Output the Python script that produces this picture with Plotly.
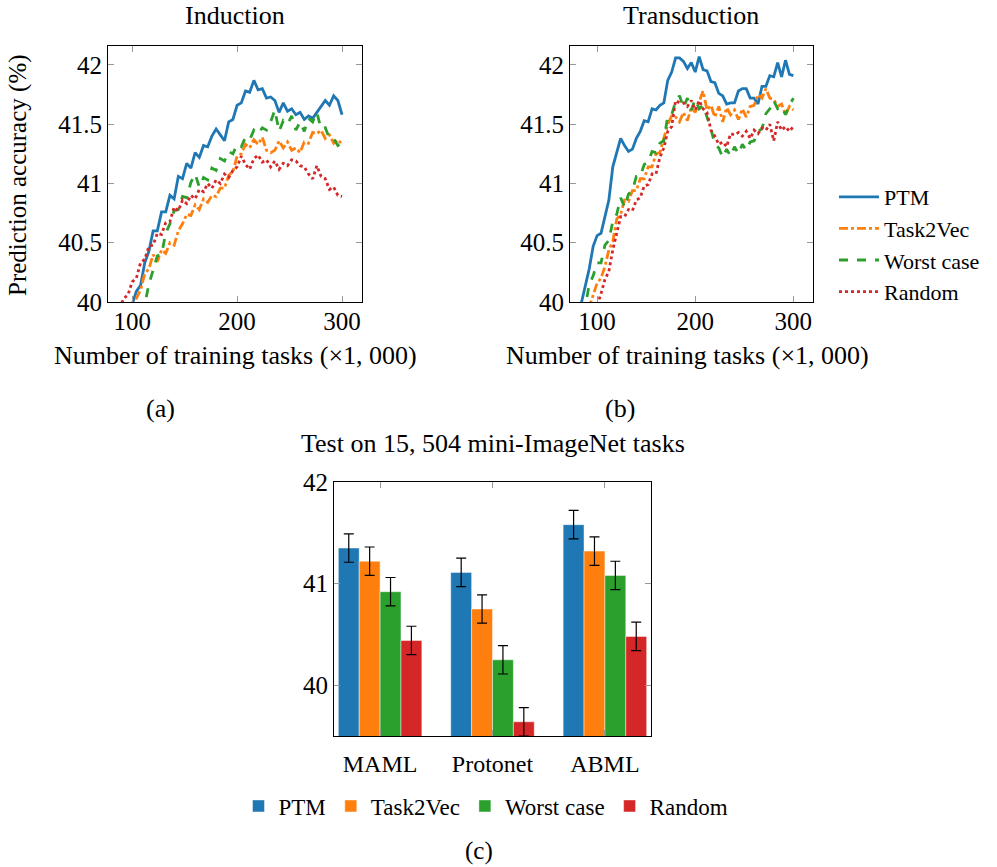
import plotly.graph_objects as go

# ---------------- data ----------------
methods = ["PTM", "Task2Vec", "Worst case", "Random"]
colors = ["#1f77b4", "#ff7f0e", "#2ca02c", "#d62728"]
dashes = ["solid", "dashdot", "dash", "dot"]

# (a) Induction
ind_x = list(range(84, 301, 4))
ind_ptm = [39.6, 39.7, 39.8, 39.9, 39.98, 40.09, 40.14, 40.33, 40.43, 40.6, 40.6, 40.76, 40.76, 40.9, 40.87,
           41.06, 41.04, 41.17, 41.13, 41.26, 41.22, 41.32, 41.31, 41.4, 41.46, 41.41, 41.36, 41.52, 41.54,
           41.66, 41.68, 41.78, 41.77, 41.87, 41.79, 41.8, 41.72, 41.73, 41.7, 41.6, 41.68, 41.61, 41.63,
           41.58, 41.6, 41.54, 41.57, 41.55, 41.6, 41.64, 41.7, 41.66, 41.74, 41.7, 41.58]
ind_t2v = [39.6, 39.7, 39.78, 39.85, 39.93, 40.03, 40.1, 40.24, 40.28, 40.4, 40.34, 40.44, 40.41, 40.5, 40.48,
           40.6, 40.66, 40.74, 40.73, 40.82, 40.78, 40.87, 40.84, 40.9, 40.89, 40.96, 40.96, 41.07, 41.1,
           41.23, 41.25, 41.33, 41.3, 41.37, 41.33, 41.39, 41.28, 41.26, 41.28, 41.36, 41.3, 41.35, 41.28,
           41.3, 41.26, 41.35, 41.34, 41.43, 41.42, 41.45, 41.38, 41.41, 41.34, 41.37, 41.33]
ind_worst = [39.5, 39.6, 39.65, 39.7, 39.75, 39.8, 39.9, 39.98, 40.15, 40.26, 40.39, 40.4, 40.58, 40.66, 40.77,
             40.78, 40.89, 40.88, 41.01, 41.08, 40.97, 41.05, 41.03, 41.13, 41.11, 41.21, 41.19, 41.27, 41.25,
             41.33, 41.31, 41.39, 41.37, 41.45, 41.42, 41.47, 41.45, 41.52, 41.62, 41.44, 41.53, 41.5, 41.57,
             41.45, 41.52, 41.44, 41.55, 41.52, 41.6, 41.46, 41.47, 41.38, 41.38, 41.32, 41.34]
ind_rand = [39.85, 39.95, 40.03, 40.06, 40.17, 40.2, 40.33, 40.36, 40.47, 40.48, 40.58, 40.57, 40.67, 40.68,
            40.8, 40.77, 40.86, 40.83, 40.9, 40.87, 40.95, 40.93, 41.0, 40.96, 41.03, 41.0, 41.08, 41.05, 41.11,
            41.14, 41.23, 41.16, 41.12, 41.21, 41.24, 41.18, 41.2, 41.14, 41.19, 41.12, 41.17, 41.15, 41.2,
            41.19, 41.15, 41.14, 41.08, 41.04, 41.15, 41.06, 41.04, 40.95, 40.97, 40.9, 40.89]

# (b) Transduction
tra_x = list(range(80, 301, 4))
tra_ptm = [39.85, 39.99, 40.12, 40.28, 40.47, 40.56, 40.58, 40.72, 40.86, 41.14, 41.26, 41.38, 41.32, 41.27,
           41.29, 41.38, 41.44, 41.53, 41.52, 41.63, 41.62, 41.66, 41.68, 41.87, 41.94, 42.06, 42.06, 42.03,
           41.97, 42.02, 41.94, 42.07, 41.96, 41.95, 41.86, 41.85, 41.76, 41.74, 41.67, 41.68, 41.68, 41.78,
           41.8, 41.8, 41.72, 41.72, 41.67, 41.82, 41.82, 41.91, 41.9, 42.02, 41.9, 42.04, 41.92, 41.91]
tra_t2v = [39.65, 39.75, 39.85, 39.95, 40.05, 40.16, 40.2, 40.3, 40.44, 40.51, 40.7, 40.74, 40.86, 40.85,
           40.94, 40.94, 41.04, 41.04, 41.14, 41.14, 41.25, 41.26, 41.38, 41.5, 41.57, 41.56, 41.52, 41.6,
           41.53, 41.64, 41.6, 41.7, 41.78, 41.62, 41.66, 41.56, 41.65, 41.52, 41.64, 41.58, 41.62, 41.54,
           41.63, 41.56, 41.65, 41.66, 41.75, 41.72, 41.8, 41.72, 41.71, 41.65, 41.67, 41.58, 41.65, 41.62]
tra_worst = [39.75, 39.85, 39.96, 40.15, 40.22, 40.33, 40.33, 40.48, 40.52, 40.68, 40.74, 40.88, 40.8, 40.91,
             40.94, 41.06, 41.06, 41.16, 41.18, 41.27, 41.26, 41.34, 41.36, 41.57, 41.58, 41.69, 41.74, 41.64,
             41.72, 41.62, 41.71, 41.63, 41.66, 41.56, 41.46, 41.33, 41.3, 41.22, 41.29, 41.23, 41.31, 41.25,
             41.33, 41.28, 41.35, 41.36, 41.44, 41.46, 41.59, 41.63, 41.7, 41.63, 41.65, 41.58, 41.66, 41.72]
tra_rand = [39.55, 39.65, 39.75, 39.82, 39.9, 39.97, 40.07, 40.19, 40.26, 40.44, 40.58, 40.72, 40.72, 40.78,
            40.77, 40.86, 40.88, 40.98, 40.99, 41.08, 41.08, 41.22, 41.3, 41.44, 41.48, 41.7, 41.68, 41.68,
            41.65, 41.7, 41.62, 41.7, 41.63, 41.6, 41.45, 41.4, 41.33, 41.35, 41.31, 41.42, 41.41, 41.43,
            41.4, 41.44, 41.38, 41.45, 41.42, 41.47, 41.45, 41.5, 41.36, 41.52, 41.45, 41.48, 41.44, 41.48]

# (c) Test bars
bar_cats = ["MAML", "Protonet", "ABML"]
bar_ptm = [41.35, 41.11, 41.58]
bar_t2v = [41.22, 40.75, 41.32]
bar_worst = [40.92, 40.25, 41.08]
bar_rand = [40.44, 39.64, 40.48]
bar_err = [0.14, 0.14, 0.14]

line_ticks_x = [100, 200, 300]
line_ticks_y = [40, 40.5, 41, 41.5, 42]
bar_ticks_y = [40, 41, 42]

# ---------------- figure ----------------
W, H = 997, 867
FONT = "'Liberation Serif', 'Times New Roman', Times, 'DejaVu Serif', serif"

def px(x):
    return x / W

def py(y):
    return 1 - y / H

fig = go.Figure()

ind_series = [ind_ptm, ind_t2v, ind_worst, ind_rand]
tra_series = [tra_ptm, tra_t2v, tra_worst, tra_rand]
for i, m in enumerate(methods):
    fig.add_trace(go.Scatter(x=ind_x, y=ind_series[i], mode="lines", name=m,
                             line=dict(color=colors[i], width=2.8, dash=dashes[i]),
                             xaxis="x", yaxis="y", legend="legend", showlegend=True))
for i, m in enumerate(methods):
    fig.add_trace(go.Scatter(x=tra_x, y=tra_series[i], mode="lines", name=m,
                             line=dict(color=colors[i], width=2.8, dash=dashes[i]),
                             xaxis="x2", yaxis="y2", showlegend=False))

bar_series = [bar_ptm, bar_t2v, bar_worst, bar_rand]
for i, m in enumerate(methods):
    fig.add_trace(go.Bar(x=bar_cats, y=bar_series[i], name=m,
                         marker=dict(color=colors[i], line=dict(color="rgba(255,255,255,0.45)", width=1)),
                         error_y=dict(type="data", array=bar_err, color="black", thickness=1.2, width=5),
                         xaxis="x3", yaxis="y3", legend="legend2"))

axis_common = dict(showline=True, linecolor="black", linewidth=1.2, mirror="ticks",
                   ticks="inside", ticklen=6, tickcolor="#999999", tickwidth=1.2,
                   showgrid=False, zeroline=False, automargin=False,
                   tickfont=dict(family=FONT, size=25, color="black"))

fig.update_layout(
    width=W, height=H, autosize=False,
    margin=dict(l=0, r=0, t=0, b=0, pad=0, autoexpand=False),
    paper_bgcolor="white", plot_bgcolor="white",
    font=dict(family=FONT, size=23, color="black"),
    barmode="group", bargap=0.257, bargroupgap=0,
    xaxis=dict(domain=[px(108), px(362)], range=[77, 319], tickvals=line_ticks_x,
               anchor="y", ticklabelstandoff=-3, **axis_common),
    yaxis=dict(domain=[py(302), py(46)], range=[40, 42.16], tickvals=line_ticks_y,
               anchor="x", **axis_common),
    xaxis2=dict(domain=[px(570), px(813)], range=[72.4, 320], tickvals=line_ticks_x,
                anchor="y2", ticklabelstandoff=-3, **axis_common),
    yaxis2=dict(domain=[py(302), py(46)], range=[40, 42.16], tickvals=line_ticks_y,
                anchor="x2", **axis_common),
    xaxis3=dict(domain=[px(334), px(651)], range=[-0.41, 2.41], type="category",
                anchor="y3", ticklabelstandoff=6, **axis_common),
    yaxis3=dict(domain=[py(736), py(482)], range=[39.5, 42], tickvals=bar_ticks_y,
                anchor="x3", **axis_common),
    legend=dict(x=px(834), y=py(176), xanchor="left", yanchor="top",
                font=dict(family=FONT, size=22), bgcolor="rgba(0,0,0,0)",
                tracegroupgap=0, itemwidth=40),
    legend2=dict(orientation="h", x=px(486), y=py(806), xanchor="center", yanchor="middle",
                 font=dict(family=FONT, size=23), bgcolor="rgba(0,0,0,0)"),
)
fig.update_xaxes(tickfont=dict(size=24), selector=dict(anchor="y3"))

annots = [
    dict(text="Induction", x=px(235), y=py(15)),
    dict(text="Transduction", x=px(691), y=py(15)),
    dict(text="Number of training tasks (×1, 000)", x=px(235), y=py(356)),
    dict(text="Number of training tasks (×1, 000)", x=px(687), y=py(356)),
    dict(text="(a)", x=px(160), y=py(408)),
    dict(text="(b)", x=px(620), y=py(408)),
    dict(text="Test on 15, 504 mini-ImageNet tasks", x=px(493), y=py(443)),
]
for a in annots:
    fig.add_annotation(xref="paper", yref="paper", showarrow=False,
                       xanchor="center", yanchor="middle",
                       font=dict(family=FONT, size=26, color="black"), **a)
fig.add_annotation(xref="paper", yref="paper", showarrow=False, text="(c)",
                   x=px(479), y=0, xanchor="center", yanchor="bottom",
                   font=dict(family=FONT, size=25, color="black"))
fig.add_annotation(xref="paper", yref="paper", showarrow=False, text="Prediction accuracy (%)",
                   x=px(18), y=py(175), xanchor="center", yanchor="middle", textangle=-90,
                   font=dict(family=FONT, size=25, color="black"))

# remove the browser's default page margin so the figure sits at the window's top-left corner
fig.write_html("out.html", config={"displayModeBar": False},
               post_script="document.body.style.margin='0px';")
